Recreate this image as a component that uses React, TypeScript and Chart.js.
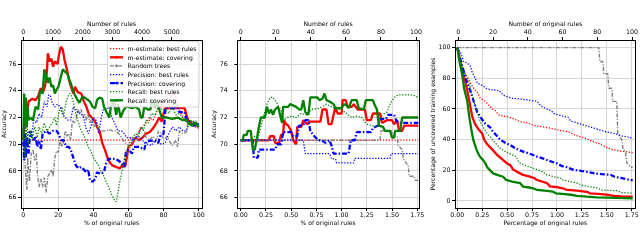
import React, { useEffect, useRef } from "react";
import { Chart, registerables } from "chart.js";
Chart.register(...registerables);

const FONT_FAMILY = "'DejaVu Sans', sans-serif";
const GRID = "#d6d6d6";

// ---------- tick labels ----------
const P1_X_TICKS = [0, 20, 40, 60, 80, 100];
const P1_TOP_TICKS = [0, 1000, 2000, 3000, 4000, 5000];
const ACC_Y_TICKS = [66, 68, 70, 72, 74, 76];
const PCT_X_TICKS = [0, 0.25, 0.5, 0.75, 1.0, 1.25, 1.5, 1.75];
const PCT_TOP_TICKS = [0, 20, 40, 60, 80, 100];
const COV_Y_TICKS = [0, 20, 40, 60, 80, 100];

// ---------- series names ----------
const SERIES_LABELS = [
  "m-estimate: best rules",
  "m-estimate: covering",
  "Random trees",
  "Precision: best rules",
  "Precision: covering",
  "Recall: best rules",
  "Recall: covering",
];

// ---------- Panel 1: accuracy vs % of original rules ----------
const p1_mBest = [[0,70.3],[0.5,70.3],[60,70.3],[62,70.5],[64,70.5],[66,71.0],[68,71.3],[70,71.6],[72,72.0],[74,71.8],[76,72.4],[78,72.8],[80,73.2],[82,73.8],[84,73.5],[86,74.0],[87,73.5],[88,72.8],[90,72.3],[92,71.8],[94,71.6],[96,71.4],[98,71.3],[100,71.2]];
const p1_mCover = [[0,70.3],[1,72.8],[2,72.2],[3,73.2],[5,73.4],[7,73.3],[8.5,73.6],[10,74.2],[11,73.8],[12.5,74.4],[13.5,75.5],[14,76.8],[15,76.2],[16,76.4],[17,75.8],[18,76.2],[19.5,76.0],[20.5,76.8],[21.5,77.3],[22.5,77.1],[23.5,76.3],[24.5,75.8],[25.5,75.2],[26.5,74.6],[27.5,74.2],[28.5,73.8],[29.5,74.3],[31,73.9],[33,73.8],[34.5,73.2],[36,72.8],[37.5,72.2],[39,72.0],[40.5,71.8],[42,71.3],[43.5,71.0],[45,70.1],[46.5,69.6],[48,69.0],[49.5,68.6],[51,68.4],[53,68.3],[55,68.2],[57,68.5],[58,68.3],[59,69.0],[60,69.8],[62,70.0],[64,70.5],[66,70.3],[68,70.5],[70,70.8],[72,70.9],[74,71.2],[76,71.6],[77.5,72.0],[79,71.7],[80,72.3],[81,72.7],[85,72.7],[88,72.7],[92,72.7],[93,72.2],[94,71.8],[96,71.5],[98,71.5],[100,71.3]];
const p1_random = [[0,70.3],[1,68.5],[2,66.6],[2.5,69.0],[3.5,67.2],[4.5,69.3],[5.5,69.6],[6.5,68.8],[7.5,69.3],[8,67.8],[9,66.8],[10,67.4],[11,66.8],[12,67.5],[13,66.4],[14,67.6],[15,67.8],[16,68.1],[17,67.6],[18,69.0],[19,69.5],[20,69.4],[21,70.3],[22,69.8],[23,70.2],[24,71.0],[25,70.6],[26,70.8],[27,70.3],[28,71.8],[29,71.6],[30,71.8],[31,72.6],[32,72.3],[33,72.6],[34,72.0],[35,72.3],[36,71.8],[37,72.2],[38,71.6],[39,72.0],[40,71.3],[42,71.6],[43,71.0],[45,71.0],[47,71.0],[49,71.1],[51,71.0],[53,71.0],[55,70.7],[57,70.3],[59,70.0],[61,69.8],[63,70.5],[65,70.3],[67,71.3],[69,71.0],[70,70.5],[72,70.3],[74,70.6],[76,70.3],[77,71.0],[78.5,70.8],[80,70.3],[82,70.6],[83,70.3],[85,69.9],[87,70.3],[88,69.8],[89,71.0],[91,70.8],[93,70.9],[94,71.7],[96,71.6],[98,71.8],[100,71.5]];
const p1_pBest = [[0,70.0],[1,71.5],[2,70.2],[3,71.0],[4.5,70.5],[6,71.8],[7.5,71.6],[9,72.3],[10.5,72.0],[12,73.2],[13.5,72.8],[14.5,73.7],[15.5,73.6],[16.5,73.1],[18,72.8],[19.5,73.0],[21,72.8],[22.5,72.2],[24,72.0],[25.5,71.8],[27,71.8],[28.5,72.8],[30,72.6],[31.5,72.3],[33,72.3],[34.5,72.0],[35.5,71.3],[37,70.8],[38.5,71.3],[40,72.0],[41.5,71.8],[43,70.8],[44.5,72.0],[46,72.8],[47.5,72.6],[49,72.8],[50.5,72.0],[52,71.6],[54,71.0],[56,71.0],[57.5,70.8],[59,70.5],[61,70.5],[63,70.3],[65,70.6],[67,70.5],[69,70.1],[71,70.0],[73,69.9],[75,70.3],[77,70.1],[79,70.0],[81,70.1],[83,70.8],[85,71.3],[87,71.0],[89,71.3],[91,71.0],[93,71.0],[95,71.8],[97,71.6],[100,71.4]];
const p1_pCover = [[0,70.2],[0.5,68.8],[1,70.8],[1.5,69.0],[2,70.5],[3,69.3],[4,71.0],[5,70.6],[6,70.3],[7,70.6],[8,69.8],[9,70.2],[10,69.6],[11,70.8],[13,71.0],[15,70.8],[17,71.0],[19,71.0],[20,70.8],[21.5,70.3],[23,70.3],[24.5,69.8],[26,69.8],[27,69.6],[28.5,69.0],[30,68.4],[31.5,68.2],[33,68.3],[34.5,68.1],[36,67.9],[37,68.1],[38,67.3],[39.5,67.2],[41,67.4],[42,67.9],[44,67.8],[46,67.9],[47,68.5],[48.5,68.9],[50,68.9],[52,68.9],[54,68.8],[56,68.6],[57.5,68.3],[58.5,69.4],[60,69.6],[62,69.3],[63,69.8],[66,69.8],[69,69.6],[70,70.2],[74,70.3],[77,70.1],[78,70.6],[80,70.8],[81,72.7],[85,72.7],[88,72.7],[89,72.4],[92,72.4],[93,71.8],[95,71.6],[97,71.4],[100,71.5]];
const p1_rBest = [[0,70.5],[1,69.0],[2,71.6],[3,70.0],[4,71.0],[5,70.3],[6.5,71.3],[8,70.5],[9,71.3],[10.5,70.8],[12,71.6],[13.5,71.0],[15,71.3],[16.5,71.6],[18,72.0],[19,71.4],[20.5,72.5],[22,72.8],[23,72.2],[24.5,73.2],[25.5,73.6],[26.5,73.8],[27.5,73.6],[28.5,73.2],[29.5,72.5],[30.5,72.0],[31.5,71.6],[33,71.0],[34,70.8],[35.5,70.4],[37,69.8],[38.5,69.5],[40,69.0],[41.5,68.7],[43,68.4],[44.5,67.9],[46,67.6],[47.5,67.1],[49,66.7],[50.5,66.2],[52,65.8],[53,65.7],[54,66.4],[55,67.2],[56,67.8],[57,68.5],[58,69.2],[59.5,69.7],[61,70.2],[62.5,70.5],[64,70.8],[65.5,70.6],[67,71.3],[68.5,71.0],[70,71.8],[71.5,71.6],[73,72.3],[75,72.2],[77,72.8],[79,72.6],[81,72.6],[83,72.3],[85,72.8],[87,72.2],[89,72.3],[91,72.0],[93,71.9],[95,71.8],[97,71.7],[100,71.6]];
const p1_rCover = [[0,70.3],[0.5,73.8],[1,71.5],[1.5,73.5],[2,71.3],[2.5,72.8],[3,71.8],[4,72.0],[5.5,71.8],[7,72.8],[8.5,72.6],[9.5,74.0],[11,73.8],[12,75.6],[13,75.2],[14,74.6],[15,75.0],[16,74.3],[17,74.4],[18,73.8],[19,74.1],[20,74.3],[21,74.8],[22.5,75.6],[24,75.4],[25,75.3],[26,74.9],[27,74.6],[28,74.2],[29,73.8],[30.5,73.4],[32,73.1],[33.5,73.5],[35,73.5],[36,73.4],[38,73.2],[39.5,72.8],[41,72.7],[42,73.3],[43.5,73.5],[45,73.4],[46,72.8],[47.5,72.4],[49,72.0],[50,72.8],[51.5,73.3],[53,72.2],[54,73.0],[55.5,72.0],[57,72.5],[58.5,72.8],[60,72.8],[62,72.7],[64,72.8],[66,72.6],[67,72.0],[68,72.0],[69,72.8],[71,72.6],[72.5,72.6],[73.5,73.3],[75,72.8],[76.5,73.1],[77.5,72.6],[79,72.0],[82,72.0],[85,71.9],[88,72.0],[91,71.8],[93,71.8],[94,71.6],[96,71.4],[98,71.6],[100,71.3]];

// ---------- Panel 2: accuracy, first 100 rules ----------
const p2_mBest = [[0,70.3],[1.76,70.3]];
const p2_mCover = [[0,70.3],[0.28,70.3],[0.29,70.6],[0.33,70.6],[0.34,70.1],[0.38,70.1],[0.4,70.7],[0.42,70.7],[0.43,71.8],[0.45,71.5],[0.47,71.4],[0.5,71.0],[0.52,70.3],[0.55,70.0],[0.56,71.3],[0.6,71.3],[0.62,71.8],[0.66,71.5],[0.68,71.7],[0.79,71.7],[0.81,72.6],[0.85,72.6],[0.87,71.5],[0.9,71.5],[0.92,72.2],[0.94,72.8],[0.96,72.3],[1.0,72.3],[1.01,73.3],[1.04,73.3],[1.06,72.8],[1.1,72.8],[1.12,73.0],[1.16,72.6],[1.23,72.6],[1.25,71.8],[1.29,71.8],[1.31,72.3],[1.38,72.3],[1.4,71.6],[1.45,71.8],[1.5,71.8],[1.52,71.5],[1.55,71.8],[1.57,71.0],[1.6,71.0],[1.62,71.4],[1.76,71.4]];
const p2_random = [[0,70.3],[1.38,70.3],[1.39,71.0],[1.5,71.0],[1.51,70.6],[1.55,70.6],[1.56,69.9],[1.6,69.6],[1.61,68.9],[1.66,68.4],[1.67,67.6],[1.72,67.6],[1.73,67.3],[1.76,67.3]];
const p2_pBest = [[0,70.3],[0.62,70.3],[0.64,69.3],[0.88,69.3],[0.9,68.9],[0.94,68.9],[0.95,68.6],[1.12,68.6],[1.13,68.95],[1.48,68.95],[1.49,69.3],[1.76,69.3]];
const p2_pCover = [[0,70.3],[0.12,70.3],[0.13,69.0],[0.17,69.0],[0.18,69.6],[0.34,69.6],[0.36,70.0],[0.4,70.0],[0.42,70.9],[0.5,70.9],[0.52,70.6],[0.56,70.6],[0.58,71.4],[0.62,71.4],[0.64,71.8],[0.67,71.8],[0.69,71.0],[0.73,70.6],[0.77,70.3],[0.8,70.3],[0.84,70.1],[0.88,70.3],[0.9,69.9],[0.92,69.3],[1.07,69.3],[1.09,70.3],[1.13,70.3],[1.15,70.9],[1.29,70.9],[1.31,71.2],[1.36,71.4],[1.38,71.9],[1.44,71.9],[1.46,72.2],[1.52,72.2],[1.54,71.8],[1.56,71.6],[1.76,71.6]];
const p2_rBest = [[0,70.3],[0.1,70.3],[0.14,70.6],[0.17,70.4],[0.2,71.3],[0.23,72.2],[0.26,73.0],[0.29,73.5],[0.32,73.5],[0.35,73.2],[0.38,72.8],[0.4,72.5],[0.43,71.8],[0.46,72.0],[0.5,72.1],[0.55,72.0],[0.6,72.3],[0.65,72.2],[0.7,72.6],[0.78,72.7],[0.85,73.0],[0.9,72.8],[0.95,72.6],[1.0,72.6],[1.05,72.3],[1.1,72.0],[1.15,72.1],[1.2,72.0],[1.25,71.5],[1.3,71.4],[1.36,71.3],[1.4,72.2],[1.45,72.4],[1.48,73.0],[1.52,73.5],[1.56,73.7],[1.7,73.7],[1.76,73.5]];
const p2_rCover = [[0,70.3],[0.02,70.3],[0.03,70.7],[0.06,70.7],[0.07,71.0],[0.1,71.0],[0.11,70.3],[0.12,69.6],[0.14,69.6],[0.16,70.4],[0.18,71.3],[0.2,72.0],[0.24,72.0],[0.26,72.8],[0.28,72.3],[0.3,72.6],[0.32,72.2],[0.34,72.6],[0.37,72.8],[0.39,72.2],[0.41,71.6],[0.42,72.8],[0.47,72.8],[0.49,73.0],[0.55,72.8],[0.58,72.6],[0.6,72.6],[0.62,73.3],[0.64,72.4],[0.67,72.2],[0.69,73.5],[0.76,73.5],[0.78,73.3],[0.81,73.4],[0.83,73.8],[0.85,73.3],[0.88,73.2],[0.92,73.0],[0.94,72.7],[1.0,72.7],[1.02,73.0],[1.05,72.9],[1.07,72.7],[1.1,73.3],[1.15,73.3],[1.17,72.7],[1.22,72.6],[1.24,73.3],[1.31,73.3],[1.33,72.9],[1.35,72.6],[1.37,71.4],[1.41,71.3],[1.43,71.0],[1.48,71.0],[1.5,70.5],[1.52,70.5],[1.53,71.0],[1.58,71.0],[1.6,72.0],[1.76,72.0]];

// ---------- Panel 3: uncovered training examples ----------
const p3_mBest = [[0,100],[0.03,92],[0.06,85],[0.1,81],[0.13,77],[0.17,73],[0.2,71],[0.23,67],[0.28,65],[0.31,63],[0.35,60],[0.38,59],[0.42,56],[0.5,55],[0.55,54],[0.62,52],[0.7,51],[0.76,49.5],[0.85,48.5],[0.93,47.5],[1.0,46.5],[1.12,45],[1.18,43],[1.28,41],[1.35,39],[1.42,37.5],[1.5,35],[1.56,33.5],[1.65,32.5],[1.76,31.5]];
const p3_mCover = [[0,100],[0.02,94],[0.05,84],[0.08,78],[0.1,72],[0.13,62],[0.15,55],[0.18,50],[0.21,47],[0.25,44],[0.27,40],[0.3,37],[0.33,35],[0.36,33],[0.4,30],[0.42,29],[0.46,26.7],[0.5,24.5],[0.53,23.5],[0.56,20.5],[0.6,19],[0.63,18],[0.66,17],[0.72,16],[0.77,15],[0.8,13.7],[0.85,12.7],[0.9,11.7],[0.93,9.5],[1.0,9],[1.06,8.3],[1.1,7.2],[1.2,6.7],[1.3,6],[1.33,5],[1.45,4.5],[1.53,3.9],[1.57,3.3],[1.65,3],[1.76,2.8]];
const p3_random = [[0,100],[1.42,100],[1.43,91],[1.46,91],[1.47,83],[1.51,83],[1.52,73.5],[1.55,73.5],[1.56,65],[1.6,65],[1.61,44],[1.65,40],[1.66,35],[1.69,31],[1.7,25],[1.74,22],[1.76,22]];
const p3_pBest = [[0,100],[0.04,96],[0.06,91],[0.1,90],[0.13,88],[0.15,84],[0.18,80],[0.2,77],[0.26,75],[0.3,73],[0.42,72],[0.46,69],[0.5,68],[0.55,67],[0.63,66.5],[0.7,66],[0.8,65],[0.84,62],[0.9,60],[0.94,59],[0.97,57],[1.05,55.5],[1.11,54.5],[1.14,52],[1.2,51],[1.27,49.5],[1.35,48],[1.42,46.5],[1.5,45],[1.58,44],[1.65,42.5],[1.76,41]];
const p3_pCover = [[0,100],[0.02,95],[0.05,88],[0.08,81],[0.1,77],[0.13,72],[0.15,68],[0.18,62],[0.2,58],[0.23,55],[0.25,53],[0.28,50.5],[0.33,48],[0.36,45],[0.39,43],[0.43,40],[0.48,38],[0.53,36.5],[0.58,34.5],[0.62,33.2],[0.67,32],[0.72,31],[0.76,30],[0.8,28.9],[0.85,28],[0.9,26.7],[0.95,25.6],[1.0,24.5],[1.05,22.8],[1.1,22],[1.16,20.5],[1.22,19.8],[1.3,19],[1.38,18],[1.45,17.5],[1.54,17],[1.58,15.8],[1.64,15],[1.7,14.2],[1.76,13.5]];
const p3_rBest = [[0,100],[0.03,92],[0.06,86],[0.1,79],[0.13,74],[0.16,66],[0.2,58],[0.23,52],[0.26,48],[0.3,44],[0.33,42],[0.36,39.5],[0.42,35],[0.46,33],[0.52,31],[0.59,29],[0.62,25],[0.67,23.5],[0.72,22.3],[0.76,21.5],[0.86,19],[0.9,17],[0.96,16],[1.03,15],[1.06,13.7],[1.13,12.7],[1.2,11.7],[1.25,10.4],[1.32,9.4],[1.4,8.5],[1.45,7.2],[1.6,6.7],[1.65,5.5],[1.76,5]];
const p3_rCover = [[0,100],[0.02,92],[0.05,82],[0.07,73],[0.1,65],[0.12,55],[0.14,47],[0.16,40],[0.19,34],[0.21,31],[0.23,28.7],[0.26,26.5],[0.28,24.8],[0.3,22],[0.33,20],[0.36,18],[0.4,17],[0.46,15.8],[0.49,13.7],[0.55,12.7],[0.63,11.7],[0.66,9.3],[0.72,8.8],[0.76,8.3],[0.8,7.2],[0.9,6.6],[0.96,6.1],[0.99,5],[1.08,4.5],[1.16,3.9],[1.2,3.3],[1.3,2.8],[1.4,2.4],[1.5,2.2],[1.6,2],[1.76,1.8]];

// ---------- styles ----------
const DOT = [1.3, 1.6];
const DASHDOT = [5, 2, 1.5, 2];
const STYLES = [
  { color: "#ff0000", width: 1.25, dash: DOT, marker: false },
  { color: "#ff0000", width: 2.3, dash: [] as number[], marker: true },
  { color: "#808080", width: 1.4, dash: [4, 1.5, 1.2, 1.5], marker: true },
  { color: "#0000ff", width: 1.25, dash: DOT, marker: false },
  { color: "#0000ff", width: 2.3, dash: DASHDOT, marker: true },
  { color: "#008000", width: 1.25, dash: DOT, marker: false },
  { color: "#008000", width: 2.3, dash: [] as number[], marker: true },
];

const TICK_FONT = { family: FONT_FAMILY, size: 6.3 };
const TITLE_FONT = { family: FONT_FAMILY, size: 6.1 };

const framePlugin = {
  id: "frame",
  afterDatasetsDraw(chart: any) {
    const { ctx, chartArea } = chart;
    const l = Math.floor(chartArea.left) + 0.5;
    const t = Math.floor(chartArea.top) + 0.5;
    const r = Math.floor(chartArea.right) + 0.5;
    const b = Math.floor(chartArea.bottom) + 0.5;
    ctx.save();
    ctx.strokeStyle = "#000";
    ctx.lineWidth = 1;
    ctx.strokeRect(l, t, r - l, b - t);
    ctx.restore();
  },
};

type Spec = {
  series: number[][][];
  xMin: number; xMax: number; xTicks: number[]; xFmt: (v: number) => string; xTitle: string;
  tMin: number; tMax: number; tTicks: number[]; tTitle: string;
  yMin: number; yMax: number; yTicks: number[]; yTitle: string;
  yAxisWidth: number; yTickPad: number; yTitlePad: number; padRight: number;
};

function buildConfig(s: Spec): any {
  const datasets = s.series.map((arr, i) => ({
    label: SERIES_LABELS[i],
    data: arr.map(([x, y]) => ({ x, y })),
    borderColor: STYLES[i].color,
    backgroundColor: STYLES[i].color,
    borderWidth: STYLES[i].width,
    borderDash: STYLES[i].dash,
    borderJoinStyle: "bevel",
    pointRadius: 0,
    fill: false,
    tension: 0,
    order: 6 - i,
    xAxisID: "x",
    yAxisID: "y",
  }));
  const setTicks = (vals: number[]) => (axis: any) => {
    axis.ticks = vals.map((v) => ({ value: v }));
  };
  return {
    type: "line",
    data: { datasets },
    options: {
      animation: false,
      responsive: false,
      events: [],
      layout: { padding: { left: 0, top: 0, bottom: 0, right: s.padRight } },
      plugins: { legend: { display: false }, tooltip: { enabled: false } },
      scales: {
        x: {
          type: "linear", axis: "x", position: "bottom", min: s.xMin, max: s.xMax,
          afterBuildTicks: setTicks(s.xTicks),
          afterFit: (a: any) => { a.height = 41; a.paddingLeft = 0; a.paddingRight = 0; },
          grid: { color: GRID, lineWidth: 1, tickColor: "#000", tickLength: 3, drawOnChartArea: true },
          border: { display: false },
          ticks: { font: TICK_FONT, color: "#000", padding: 0.5, maxRotation: 0, autoSkip: false, callback: (v: any) => s.xFmt(Number(v)) },
          title: { display: true, text: s.xTitle, font: TITLE_FONT, color: "#000", padding: { top: 0, bottom: 22 } },
        },
        xTop: {
          type: "linear", axis: "x", position: "top", min: s.tMin, max: s.tMax,
          afterBuildTicks: setTicks(s.tTicks),
          afterFit: (a: any) => { a.height = 40; a.paddingLeft = 0; a.paddingRight = 0; },
          grid: { display: true, drawOnChartArea: false, color: GRID, tickColor: "#000", tickLength: 3 },
          border: { display: false },
          ticks: { font: TICK_FONT, color: "#000", padding: 0.5, maxRotation: 0, autoSkip: false, callback: (v: any) => String(Math.round(Number(v))) },
          title: { display: true, text: s.tTitle, font: TITLE_FONT, color: "#000", padding: { top: 21.2, bottom: 0 } },
        },
        y: {
          type: "linear", axis: "y", position: "left", min: s.yMin, max: s.yMax,
          afterBuildTicks: setTicks(s.yTicks),
          afterFit: (a: any) => { a.width = s.yAxisWidth; a.paddingTop = 0; a.paddingBottom = 0; },
          grid: { color: GRID, lineWidth: 1, tickColor: "#000", tickLength: 3, drawOnChartArea: true },
          border: { display: false },
          ticks: { font: TICK_FONT, color: "#000", padding: s.yTickPad, autoSkip: false, callback: (v: any) => String(Math.round(Number(v))) },
          title: { display: true, text: s.yTitle, font: TITLE_FONT, color: "#000", padding: { top: s.yTitlePad, bottom: 0 } },
        },
      },
    },
    plugins: [framePlugin],
  };
}

const fmtInt = (v: number) => String(Math.round(v));
const fmt2 = (v: number) => v.toFixed(2);

const SPECS: { left: number; width: number; spec: Spec }[] = [
  {
    left: 0, width: 210,
    spec: {
      series: [p1_mBest, p1_mCover, p1_random, p1_pBest, p1_pCover, p1_rBest, p1_rCover],
      xMin: -1.31, xMax: 101.9, xTicks: P1_X_TICKS, xFmt: fmtInt, xTitle: "% of original rules",
      tMin: -77.5, tMax: 6021, tTicks: P1_TOP_TICKS, tTitle: "Number of rules",
      yMin: 65.23, yMax: 77.8, yTicks: ACC_Y_TICKS, yTitle: "Accuracy",
      yAxisWidth: 21, yTickPad: 1.5, yTitlePad: 0.5, padRight: 8,
    },
  },
  {
    left: 210, width: 220,
    spec: {
      series: [p2_mBest, p2_mCover, p2_random, p2_pBest, p2_pCover, p2_rBest, p2_rCover],
      xMin: -0.0337, xMax: 1.7668, xTicks: PCT_X_TICKS, xFmt: fmt2, xTitle: "% of original rules",
      tMin: -1.94, tMax: 101.7, tTicks: PCT_TOP_TICKS, tTitle: "Number of rules",
      yMin: 65.23, yMax: 77.8, yTicks: ACC_Y_TICKS, yTitle: "Accuracy",
      yAxisWidth: 27.3, yTickPad: 6.5, yTitlePad: 0.5, padRight: 11,
    },
  },
  {
    left: 430, width: 210,
    spec: {
      series: [p3_mBest, p3_mCover, p3_random, p3_pBest, p3_pCover, p3_rBest, p3_rCover],
      xMin: -0.023, xMax: 1.79, xTicks: PCT_X_TICKS, xFmt: fmt2, xTitle: "Percentage of original rules",
      tMin: -1.9, tMax: 102.1, tTicks: PCT_TOP_TICKS, tTitle: "Number of original rules",
      yMin: -4.57, yMax: 105.0, yTicks: COV_Y_TICKS, yTitle: "Percentage of uncovered training examples",
      yAxisWidth: 25, yTickPad: 1.5, yTitlePad: 0, padRight: 4.3,
    },
  },
];

function Panel({ left, width, spec }: { left: number; width: number; spec: Spec }) {
  const ref = useRef<HTMLCanvasElement | null>(null);
  useEffect(() => {
    if (!ref.current) return;
    const chart = new Chart(ref.current, buildConfig(spec));
    return () => chart.destroy();
  }, []);
  return (
    <canvas
      ref={ref}
      width={width}
      height={249}
      style={{ position: "absolute", left, top: 0, width, height: 249 }}
    />
  );
}

function Legend() {
  const rowY = (i: number) => 7.7 + i * 8.6;
  return (
    <svg style={{ position: "absolute", left: 107, top: 41, overflow: "visible" }} width={93} height={67}>
      <rect x={0.5} y={0.5} width={91.5} height={65.5} rx={2} fill="rgba(255,255,255,0.8)" stroke="#cccccc" strokeWidth={0.8} />
      {SERIES_LABELS.map((label, i) => {
        const st = STYLES[i];
        return (
          <g key={label}>
            <line x1={3} x2={16} y1={rowY(i)} y2={rowY(i)} stroke={st.color} strokeWidth={st.width} strokeDasharray={st.dash.length ? st.dash.join(" ") : undefined} />
            {st.marker && <circle cx={9.5} cy={rowY(i)} r={1.4} fill={st.color} />}
            <text x={20.5} y={rowY(i)} dominantBaseline="central" fontSize={6.1} fontFamily="DejaVu Sans" fill="#000">
              {label}
            </text>
          </g>
        );
      })}
    </svg>
  );
}

export default function App() {
  return (
    <div style={{ position: "fixed", left: 0, top: 0, width: 640, height: 249, background: "#fff", overflow: "hidden" }}>
      {SPECS.map((p, i) => (
        <Panel key={i} left={p.left} width={p.width} spec={p.spec} />
      ))}
      <Legend />
    </div>
  );
}
